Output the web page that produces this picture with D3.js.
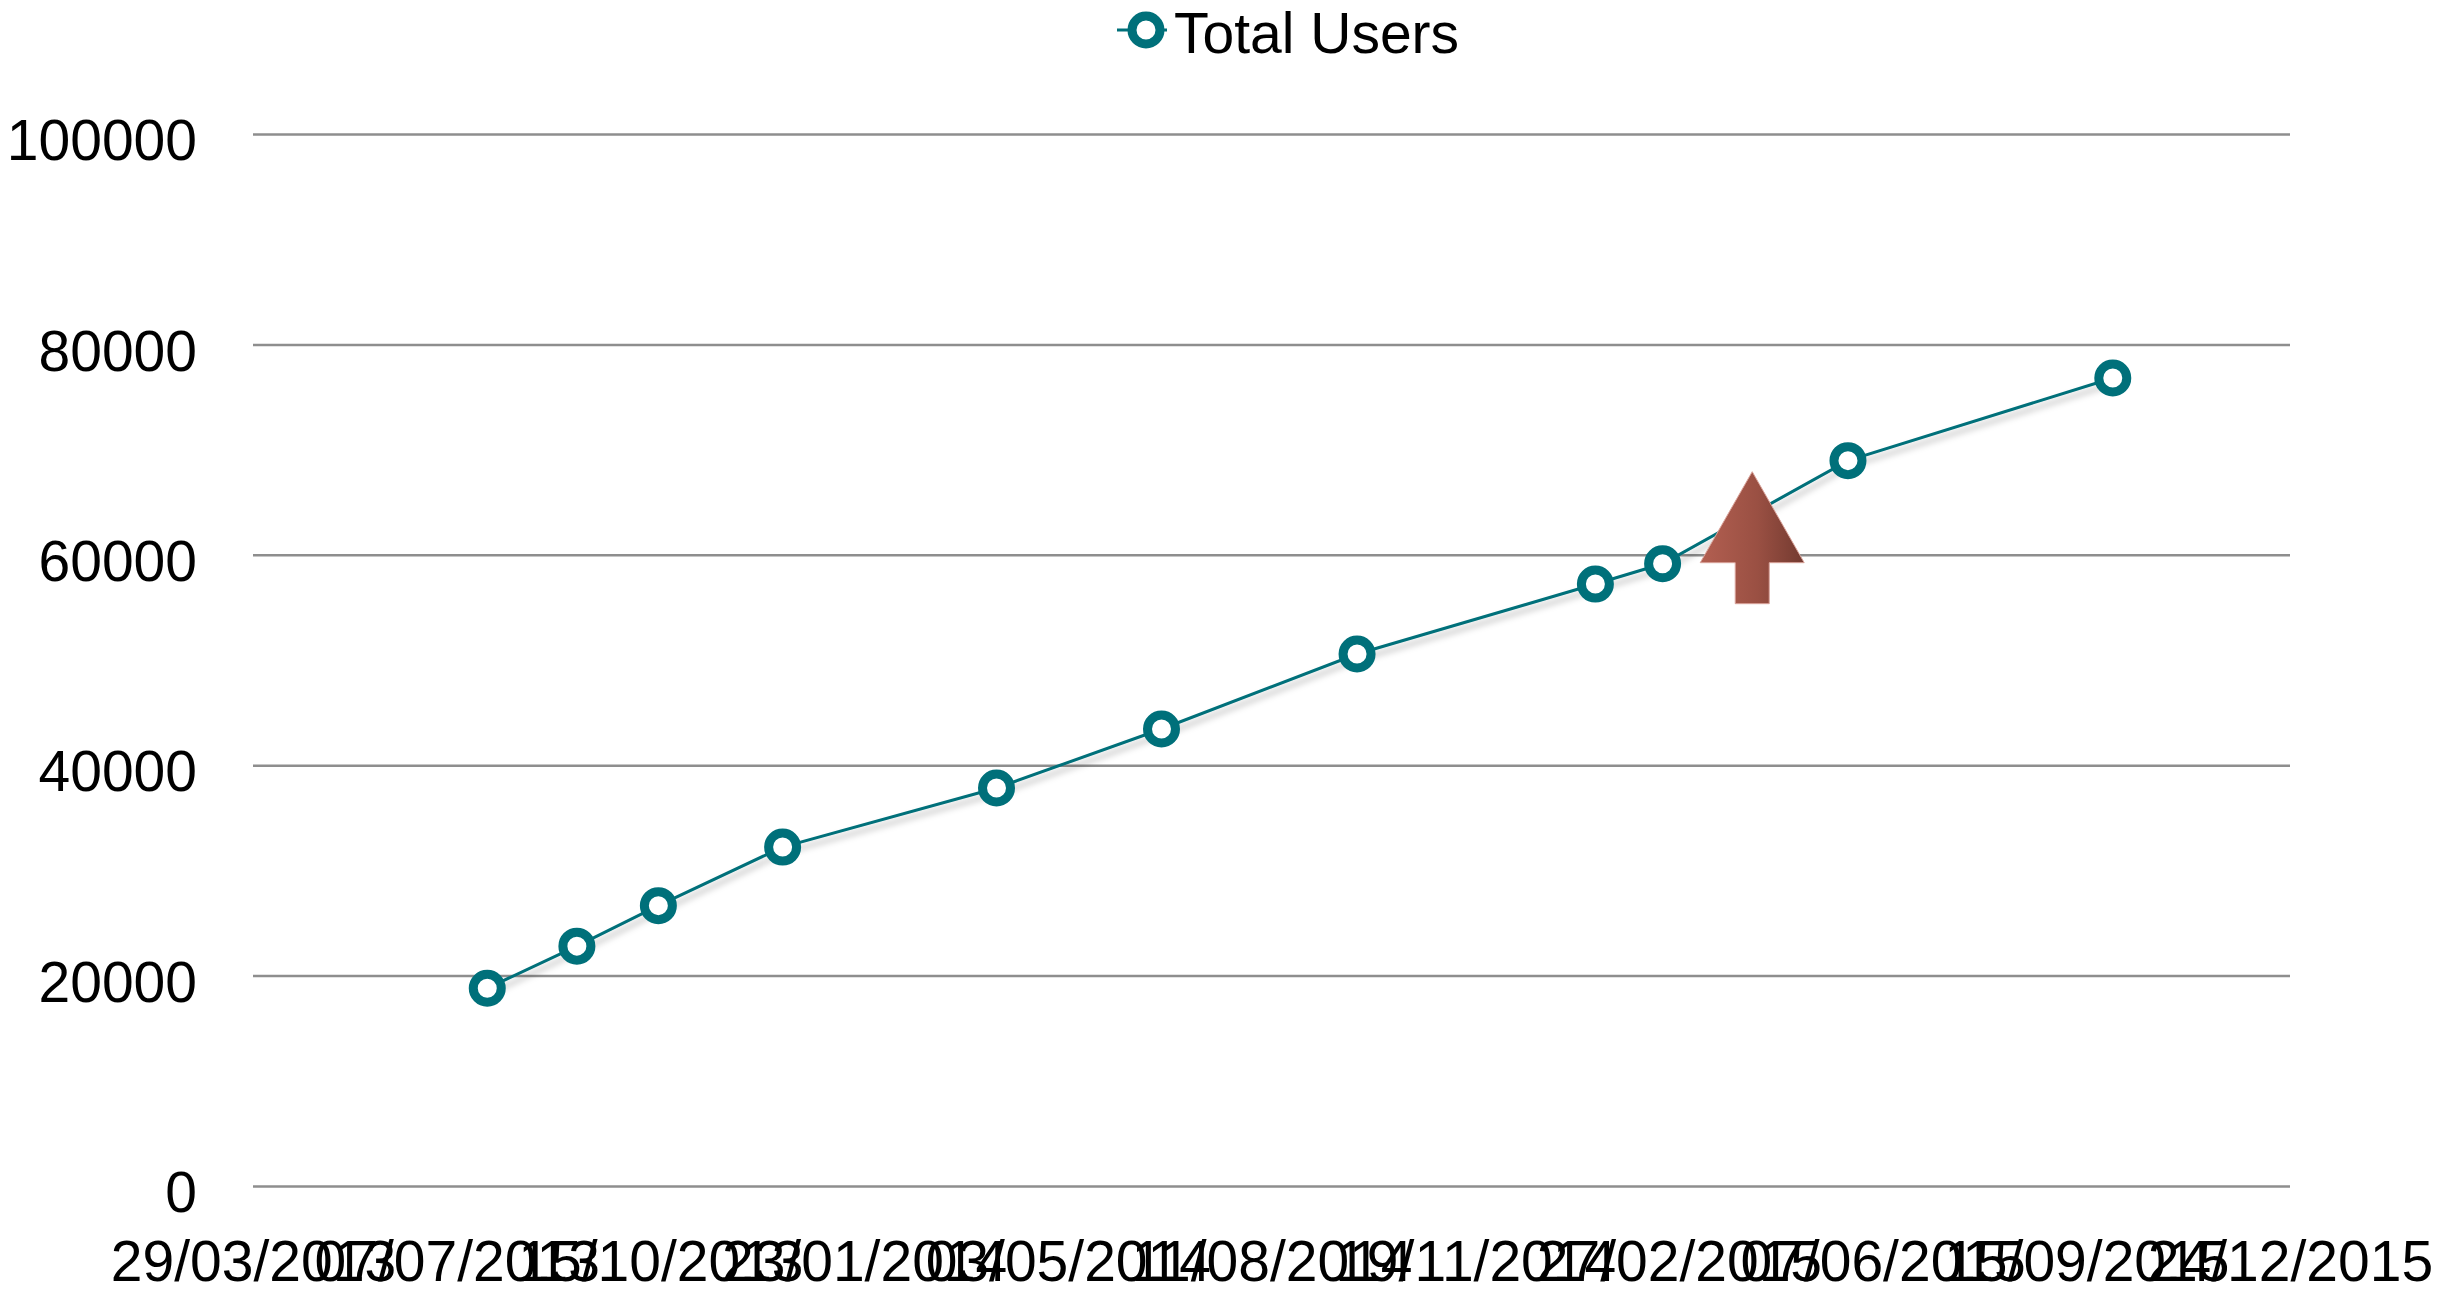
<!DOCTYPE html>
<html>
<head>
<meta charset="utf-8">
<script src="https://cdn.jsdelivr.net/npm/d3@7"></script>
<style>
  body { margin: 0; background: #fff; }
  text { font-family: 'Liberation Sans', Arial, Helvetica, sans-serif; fill: #000; }
</style>
</head>
<body>
<script>
'use strict';

// data
const seriesName = 'Total Users';
const dates = [
  '2013-07-22', '2013-09-04', '2013-10-14', '2013-12-14', '2014-03-29',
  '2014-06-18', '2014-09-22', '2015-01-17', '2015-02-19', '2015-05-21',
  '2015-09-28'
];
const users = [18800, 22800, 26650, 32220, 37830, 43440, 50570, 57220, 59150, 68950, 76810];
const xTickLabels = [
  '29/03/2013', '07/07/2013', '15/10/2013', '23/01/2014', '03/05/2014',
  '11/08/2014', '19/11/2014', '27/02/2015', '07/06/2015', '15/09/2015',
  '24/12/2015'
];
const yTicks = [0, 20000, 40000, 60000, 80000, 100000];
// the up arrow annotation: tip position in data units
const arrowTip = { date: '2015-04-04', value: 67900 };

(function() {
  const width = 2437;
  const height = 1292;
  const parseIso = d3.utcParse('%Y-%m-%d');
  const parseTick = d3.utcParse('%d/%m/%Y');
  const tickDates = xTickLabels.map(parseTick);

  const svg = d3.select('body')
    .append('svg')
    .attr('width', width)
    .attr('height', height);

  const defs = svg.append('defs');

  // soft shadow under the line
  const shadow = defs.append('filter')
    .attr('id', 'shadow')
    .attr('x', '-5%').attr('y', '-20%')
    .attr('width', '110%').attr('height', '140%');
  shadow.append('feDropShadow')
    .attr('dx', 3).attr('dy', 5)
    .attr('stdDeviation', 3)
    .attr('flood-color', '#000')
    .attr('flood-opacity', 0.28);

  // arrow fill, light on the left and darker on the right
  const grad = defs.append('linearGradient')
    .attr('id', 'arrowGrad')
    .attr('x1', '0%').attr('x2', '100%')
    .attr('y1', '0%').attr('y2', '0%');
  grad.append('stop').attr('offset', '0%').attr('stop-color', '#b35f51');
  grad.append('stop').attr('offset', '55%').attr('stop-color', '#9a5043');
  grad.append('stop').attr('offset', '100%').attr('stop-color', '#733a30');

  const x = d3.scaleUtc()
    .domain([tickDates[0], tickDates[tickDates.length - 1]])
    .range([253, 2290]);

  const y = d3.scaleLinear()
    .domain([0, 100000])
    .range([1186, 134]);

  // horizontal grid lines with the value labels
  const yAxis = d3.axisLeft(y)
    .tickValues(yTicks)
    .tickSize(-(x.range()[1] - x.range()[0]))
    .tickPadding(56)
    .tickFormat(d3.format('d'));

  const gy = svg.append('g')
    .attr('transform', `translate(${x.range()[0]},0)`)
    .call(yAxis);
  gy.select('.domain').remove();
  gy.selectAll('.tick line')
    .attr('stroke', '#8e8e8e')
    .attr('stroke-width', 2.5);
  gy.selectAll('.tick text')
    .attr('font-size', '57px')
    .attr('dy', '0.45em');

  // date axis, labels only
  const xAxis = d3.axisBottom(x)
    .tickValues(tickDates)
    .tickSize(0)
    .tickPadding(55)
    .tickFormat(d3.utcFormat('%d/%m/%Y'));

  const gx = svg.append('g')
    .attr('transform', `translate(0,${y(0)})`)
    .call(xAxis);
  gx.select('.domain').remove();
  gx.selectAll('.tick text')
    .attr('font-size', '57px');

  const points = dates.map((d, i) => ({ date: parseIso(d), value: users[i] }));

  const line = d3.line()
    .x(d => x(d.date))
    .y(d => y(d.value));

  svg.append('path')
    .datum(points)
    .attr('d', line)
    .attr('fill', 'none')
    .attr('stroke', '#00707a')
    .attr('stroke-width', 3)
    .attr('filter', 'url(#shadow)');

  svg.append('g')
    .selectAll('circle')
    .data(points)
    .join('circle')
    .attr('cx', d => x(d.date))
    .attr('cy', d => y(d.value))
    .attr('r', 14)
    .attr('fill', '#fff')
    .attr('stroke', '#00707a')
    .attr('stroke-width', 9);

  // up arrow, shape in pixels around its tip
  const ax = x(parseIso(arrowTip.date));
  const ay = y(arrowTip.value);
  const arrowPts = [
    [0, 0], [52, 91], [17, 91], [17, 132], [-17, 132], [-17, 91], [-52, 91]
  ].map(p => [ax + p[0], ay + p[1]]);
  svg.append('path')
    .attr('d', d3.line()(arrowPts) + 'Z')
    .attr('fill', 'url(#arrowGrad)')
    .attr('stroke', '#d9a39a')
    .attr('stroke-width', 1);

  // legend
  const legend = svg.append('g');
  legend.append('line')
    .attr('x1', 1117).attr('x2', 1167)
    .attr('y1', 30).attr('y2', 30)
    .attr('stroke', '#00707a')
    .attr('stroke-width', 3);
  legend.append('circle')
    .attr('cx', 1146).attr('cy', 30)
    .attr('r', 14)
    .attr('fill', '#fff')
    .attr('stroke', '#00707a')
    .attr('stroke-width', 9);
  legend.append('text')
    .attr('x', 1174)
    .attr('y', 53)
    .attr('font-size', '57px')
    .text(seriesName);
})();
</script>
</body>
</html>
